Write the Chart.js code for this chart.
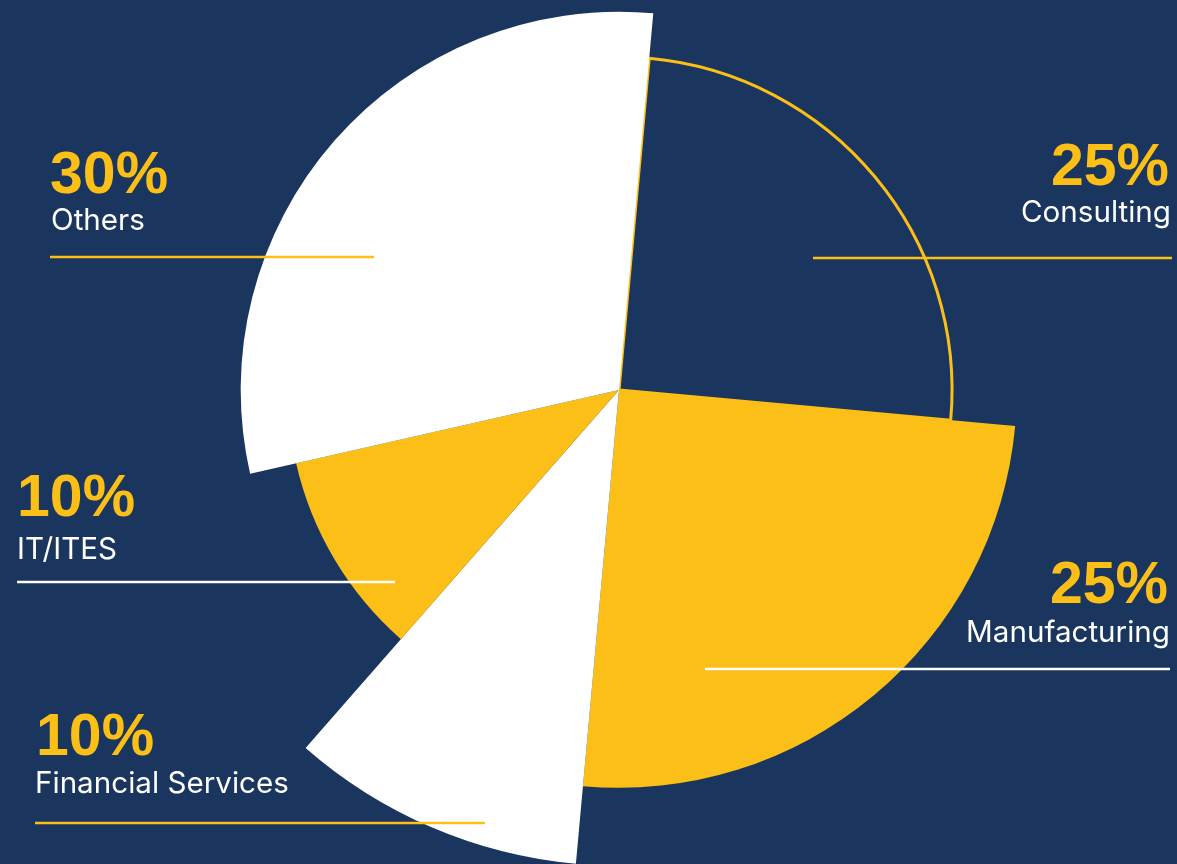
<!DOCTYPE html>
<html>
<head>
<meta charset="utf-8">
<script src="https://cdn.jsdelivr.net/npm/chart.js@4/dist/chart.umd.min.js"></script>
<style>
    html, body {
        margin: 0;
        padding: 0;
        background: #1b365e;
        overflow: hidden;
    }
    #wrap {
        width: 1177px;
        height: 864px;
        position: relative;
    }
</style>
</head>
<body>
<div id="wrap"><canvas id="sector-chart"></canvas></div>
<script>
// slice data
const categories = ['Consulting', 'Manufacturing', 'Financial Services', 'IT/ITES', 'Others']
const shares = [25, 25, 10, 10, 30]          // percent of the circle
const radii = [85.4, 102, 122, 84.9, 97]     // relative slice radius (scale max = 100)

const NAVY = '#1b365e'
const YELLOW = '#fcbf17'
const WHITE = '#ffffff'

const sliceFill = [NAVY, YELLOW, WHITE, YELLOW, WHITE]
const sliceBorder = [YELLOW, YELLOW, WHITE, YELLOW, WHITE]
const sliceBorderWidth = [3, 0, 0, 0, 0]

// where each caption sits on the page
const captionLayout = [
    {align: 'right', pctX: 1169, nameX: 1171, pctY: 185, nameY: 222, lineY: 258, x0: 813, x1: 1172, line: YELLOW},
    {align: 'right', pctX: 1168, nameX: 1170, pctY: 603, nameY: 642, lineY: 669, x0: 705, x1: 1170, line: WHITE},
    {align: 'left', pctX: 36, nameX: 35, pctY: 755, nameY: 793, lineY: 823, x0: 35, x1: 485, line: YELLOW},
    {align: 'left', pctX: 17, nameX: 17, pctY: 516, nameY: 559, lineY: 582, x0: 17, x1: 395, line: WHITE},
    {align: 'left', pctX: 50, nameX: 51, pctY: 193, nameY: 230, lineY: 257, x0: 50, x1: 374, line: YELLOW},
]

const captionPlugin = {
    id: 'sliceCaptions',
    afterDraw(chart) {
        const ctx = chart.ctx
        ctx.save()
        categories.forEach((name, i) => {
            const spot = captionLayout[i]
            ctx.textAlign = spot.align
            ctx.textBaseline = 'alphabetic'

            ctx.fillStyle = YELLOW
            ctx.font = 'bold 59px "Liberation Sans", Arial, sans-serif'
            ctx.fillText(shares[i] + '%', spot.pctX, spot.pctY)

            ctx.fillStyle = WHITE
            ctx.font = '29.6px Inter, Roboto, sans-serif'
            ctx.fillText(name, spot.nameX, spot.nameY)

            ctx.strokeStyle = spot.line
            ctx.lineWidth = 2.5
            ctx.beginPath()
            ctx.moveTo(spot.x0, spot.lineY)
            ctx.lineTo(spot.x1, spot.lineY)
            ctx.stroke()
        })
        ctx.restore()
    }
}

const ctx = document.getElementById('sector-chart')
const chart = new Chart(ctx, {
    type: 'polarArea',
    data: {
        labels: categories,
        datasets: [{
            data: radii,
            angle: (c) => shares[c.dataIndex] * 3.6,
            backgroundColor: sliceFill,
            borderColor: sliceBorder,
            borderWidth: sliceBorderWidth,
            borderAlign: 'center',
            clip: false,
        }]
    },
    options: {
        responsive: true,
        maintainAspectRatio: false,
        animation: false,
        events: [],
        layout: {
            padding: {left: 61, right: 0, top: 0, bottom: 84}
        },
        plugins: {
            legend: {display: false},
            tooltip: {enabled: false},
        },
        scales: {
            r: {
                display: false,
                min: 0,
                max: 100,
                startAngle: 5.2,
            }
        }
    },
    plugins: [captionPlugin]
})
</script>
</body>
</html>
